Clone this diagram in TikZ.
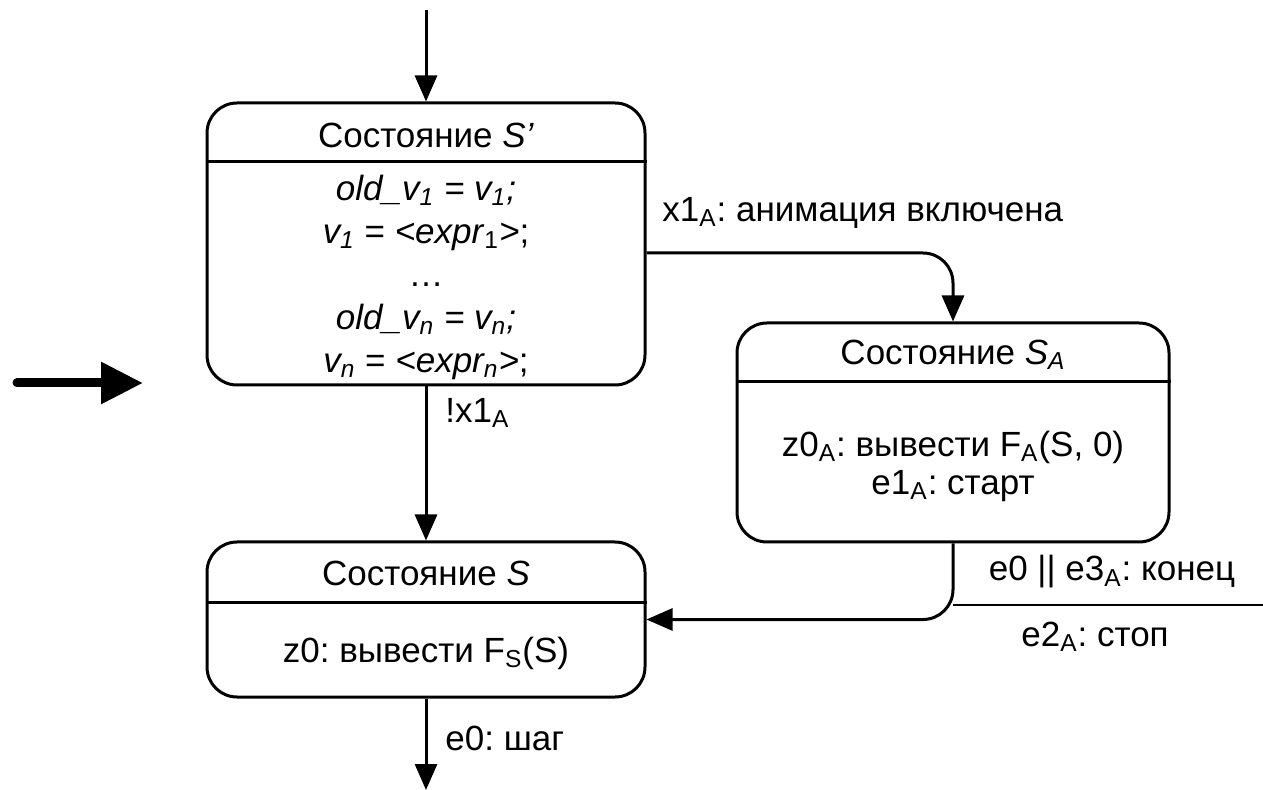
\documentclass[tikz,border=0pt]{standalone}
\usepackage{fontspec}
\setmainfont{Liberation Sans}
\usetikzlibrary{arrows.meta}
\frenchspacing
\begin{document}
\begin{tikzpicture}[x=0.5pt,y=-0.5pt,
  stbox/.style={draw, line width=1.5pt, rounded corners=15pt, inner sep=0pt},
  conn/.style={line width=1.5pt, -{Triangle[length=13pt,width=11pt]}},
  txt/.style={inner sep=0pt, font=\fontsize{17.5}{21.5}\selectfont, align=center},
  lbl/.style={inner sep=0pt, font=\fontsize{17.5}{20}\selectfont}]
\useasboundingbox (0,0) rectangle (1263,790);

% state boxes
\node[stbox, minimum width=219pt, minimum height=141pt] (sp) at (426,244) {};
\node[stbox, minimum width=216pt, minimum height=109.5pt] (sa) at (953,432.5) {};
\node[stbox, minimum width=219pt, minimum height=77.5pt] (s) at (426,619.5) {};

% header dividers
\draw[line width=1.5pt] (sp.west |- 0,162) -- (sp.east |- 0,162);
\draw[line width=1.5pt] (sa.west |- 0,382) -- (sa.east |- 0,382);
\draw[line width=1.5pt] (s.west |- 0,602) -- (s.east |- 0,602);

% box texts
\node[txt] (sph) at (426,135) {Состояние \textit{S’}};
\node[txt] (spb) at (426,277) {\textit{old\_v\textsubscript{1} = v\textsubscript{1};}\\
  \textit{v\textsubscript{1}} = \textit{<expr}\textsubscript{1}\textit{>};\\
  …\\
  \textit{old\_v\textsubscript{n} = v\textsubscript{n};}\\
  \textit{v\textsubscript{n}} = \textit{<expr\textsubscript{n}>};};
\node[txt] (sah) at (953,355) {Состояние \textit{S\textsubscript{A}}};
\node[txt, font=\fontsize{17.5}{19}\selectfont] (sab) at (953,466) {z0\textsubscript{A}: вывести F\textsubscript{A}(S, 0)\\
  e1\textsubscript{A}: старт};
\node[txt] (sh) at (426,573) {Состояние \textit{S}};
\node[txt] (sb) at (426,653) {z0: вывести F\textsubscript{S}(S)};

% connectors
\coordinate (in) at (426,10);
\coordinate (out) at (426,790);
\draw[conn] (in) -- (sp.north);
\draw[conn, rounded corners=15pt] (sp.east |- 0,253) -| (sa.north);
\draw[conn] (sp.south) -- (s.north);
\draw[conn, rounded corners=15pt] (sa.south) |- (s.east);
\draw[conn] (s.south) -- (out);

% transition labels
\node[lbl, anchor=west] (l1) at (662,213) {x1\textsubscript{A}: анимация включена};
\node[lbl, anchor=west] (l2) at (445,413) {!x1\textsubscript{A}};
\node[lbl] (l3) at (1112,572) {e0 || e3\textsubscript{A}: конец};
\node[lbl] (l4) at (1095,637) {e2\textsubscript{A}: стоп};
\node[lbl, anchor=west] (l5) at (445,738) {e0: шаг};
\coordinate (sepa) at (953,605);
\coordinate (sepb) at (1263,605);
\draw[line width=0.75pt] (sepa) -- (sepb);

% bold marker arrow
\coordinate (ma) at (17,383);
\coordinate (mb) at (143,383);
\draw[line width=4.5pt, line cap=round, -{Triangle[length=21pt,width=20pt]}] (ma) -- (mb);
\end{tikzpicture}
\end{document}
